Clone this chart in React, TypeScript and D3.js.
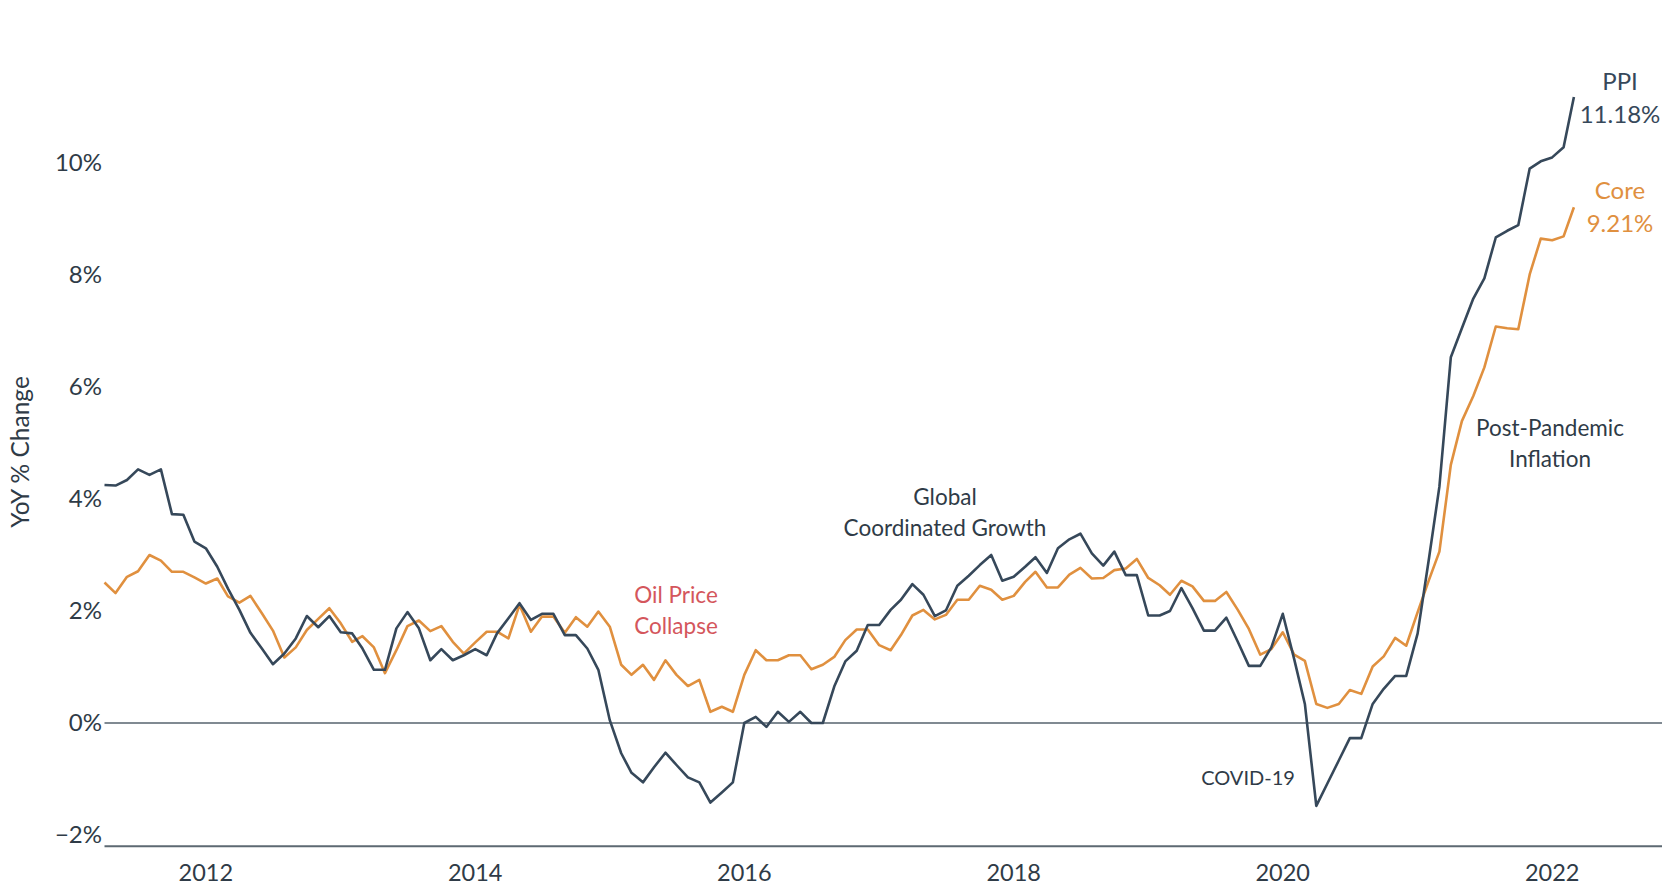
import React from "react";
import * as d3 from "d3";

// ---- Data (monthly, YoY % change) ----
const START_MONTH = "2011-04-01";
const ppiValues = [
  4.25, 4.24, 4.34, 4.53, 4.43, 4.53, 3.73, 3.72, 3.24, 3.12, 2.79, 2.40,
  2.02, 1.61, 1.33, 1.05, 1.24, 1.51, 1.91, 1.71, 1.91, 1.62, 1.60, 1.33,
  0.95, 0.95, 1.69, 1.98, 1.69, 1.12, 1.32, 1.12, 1.21, 1.32, 1.21, 1.60,
  1.87, 2.14, 1.84, 1.95, 1.95, 1.57, 1.57, 1.33, 0.95, 0.05, -0.54, -0.89,
  -1.06, -0.79, -0.53, -0.75, -0.97, -1.06, -1.42, -1.24, -1.06, 0.0, 0.11, -0.07,
  0.20, 0.02, 0.20, 0.0, 0.0, 0.65, 1.10, 1.29, 1.75, 1.75, 2.02, 2.20,
  2.48, 2.29, 1.91, 2.01, 2.45, 2.63, 2.82, 3.00, 2.54, 2.61, 2.79, 2.96,
  2.68, 3.12, 3.28, 3.38, 3.03, 2.81, 3.06, 2.64, 2.64, 1.92, 1.92, 2.00,
  2.41, 2.05, 1.65, 1.65, 1.88, 1.45, 1.02, 1.02, 1.35, 1.95, 1.14, 0.34,
  -1.48, -1.08, -0.67, -0.27, -0.27, 0.34, 0.61, 0.84, 0.84, 1.60, 2.95, 4.22,
  6.53, 7.05, 7.58, 7.94, 8.67, 8.79, 8.89, 9.90, 10.03, 10.10, 10.28, 11.18,
];
const coreValues = [
  2.51, 2.32, 2.61, 2.71, 3.00, 2.90, 2.70, 2.70, 2.60, 2.49, 2.58, 2.26,
  2.15, 2.27, 1.96, 1.65, 1.17, 1.35, 1.66, 1.86, 2.05, 1.78, 1.45, 1.55,
  1.35, 0.89, 1.30, 1.73, 1.83, 1.64, 1.73, 1.45, 1.24, 1.44, 1.63, 1.63,
  1.51, 2.11, 1.63, 1.90, 1.90, 1.61, 1.89, 1.72, 1.99, 1.72, 1.04, 0.86,
  1.04, 0.77, 1.12, 0.86, 0.66, 0.77, 0.20, 0.29, 0.20, 0.86, 1.30, 1.12,
  1.12, 1.21, 1.21, 0.96, 1.04, 1.18, 1.48, 1.67, 1.67, 1.39, 1.30, 1.57,
  1.92, 2.02, 1.85, 1.93, 2.20, 2.20, 2.45, 2.38, 2.20, 2.27, 2.52, 2.70,
  2.42, 2.42, 2.65, 2.77, 2.58, 2.59, 2.73, 2.76, 2.93, 2.59, 2.46, 2.29,
  2.54, 2.44, 2.18, 2.18, 2.34, 2.02, 1.68, 1.22, 1.32, 1.62, 1.22, 1.11,
  0.34, 0.27, 0.34, 0.59, 0.52, 1.01, 1.19, 1.52, 1.38, 1.98, 2.56, 3.06,
  4.61, 5.39, 5.84, 6.35, 7.08, 7.05, 7.03, 8.01, 8.65, 8.62, 8.69, 9.21,
];
const yTickValues = [-2, 0, 2, 4, 6, 8, 10];
const xTickYears = [2012, 2014, 2016, 2018, 2020, 2022];
const xDomain = ["2011-04-01", "2022-10-26"];
const yAxisTitle = "YoY % Change";

// ---- Styling / layout ----
const W = 1674;
const H = 886;
const PPI_COLOR = "#36485a";
const CORE_COLOR = "#e0903f";
const RED = "#d4565c";
const TEXT = "#2f3b47";
const FONT = "Lato, 'Open Sans', sans-serif";

type Note = { lines: string[]; x: number; y: number; color: string; size: number; gap: number };
const notes: Note[] = [
  { lines: ["PPI", "11.18%"], x: 1620, y: 82, color: PPI_COLOR, size: 24, gap: 33 },
  { lines: ["Core", "9.21%"], x: 1620, y: 191, color: CORE_COLOR, size: 24, gap: 33 },
  { lines: ["Post-Pandemic", "Inflation"], x: 1550, y: 428, color: TEXT, size: 22.5, gap: 31 },
  { lines: ["Global", "Coordinated Growth"], x: 945, y: 497, color: TEXT, size: 22.5, gap: 31 },
  { lines: ["Oil Price", "Collapse"], x: 676, y: 595, color: RED, size: 22.5, gap: 31 },
  { lines: ["COVID-19"], x: 1248, y: 778, color: TEXT, size: 20, gap: 31 },
];

function parseDay(s: string): Date {
  const [yy, mm, dd] = s.split("-").map(Number);
  return new Date(yy, mm - 1, dd);
}

export default function App() {
  const start = parseDay(START_MONTH);
  const months = ppiValues.map((_, i) => d3.timeMonth.offset(start, i));

  const x = d3
    .scaleTime()
    .domain(xDomain.map(parseDay))
    .range([104.5, 1662]);
  const y = d3.scaleLinear().domain([0, 10]).range([723, 163]);
  const yBottom = y(-2.2);

  const line = d3
    .line<number>()
    .x((_, i) => x(months[i]))
    .y((d) => y(d));

  return (
    <svg
      width={W}
      height={H}
      style={{ position: "absolute", left: 0, top: 0, background: "#fff" }}
      fontFamily={FONT}
    >
      {/* zero line */}
      <line x1={x.range()[0]} x2={x.range()[1]} y1={y(0)} y2={y(0)} stroke="#56636e" strokeWidth={1.5} />
      {/* bottom axis line */}
      <line x1={x.range()[0]} x2={x.range()[1]} y1={yBottom} y2={yBottom} stroke="#5d6972" strokeWidth={2} />

      {/* y ticks */}
      {yTickValues.map((v) => (
        <text
          key={v}
          x={102}
          y={y(v)}
          dy="0.35em"
          textAnchor="end"
          fontSize={24}
          fill={TEXT}
        >
          {(v < 0 ? "\u2212" + Math.abs(v) : String(v)) + "%"}
        </text>
      ))}

      {/* x ticks */}
      {xTickYears.map((yr) => (
        <text
          key={yr}
          x={x(new Date(yr, 0, 1))}
          y={881}
          textAnchor="middle"
          fontSize={23.5}
          fill={TEXT}
        >
          {yr}
        </text>
      ))}

      {/* y axis title */}
      <text
        transform={`translate(29,452) rotate(-90)`}
        textAnchor="middle"
        fontSize={24.5}
        fill={TEXT}
      >
        {yAxisTitle}
      </text>

      {/* series */}
      <path d={line(coreValues) || ""} fill="none" stroke={CORE_COLOR} strokeWidth={2.6} strokeLinejoin="round" />
      <path d={line(ppiValues) || ""} fill="none" stroke={PPI_COLOR} strokeWidth={2.6} strokeLinejoin="round" />

      {/* annotations */}
      {notes.map((n, k) => (
        <g key={k}>
          {n.lines.map((t, j) => (
            <text
              key={j}
              x={n.x}
              y={n.y + j * n.gap}
              dy="0.35em"
              textAnchor="middle"
              fontSize={n.size}
              fill={n.color}
            >
              {t}
            </text>
          ))}
        </g>
      ))}
    </svg>
  );
}
